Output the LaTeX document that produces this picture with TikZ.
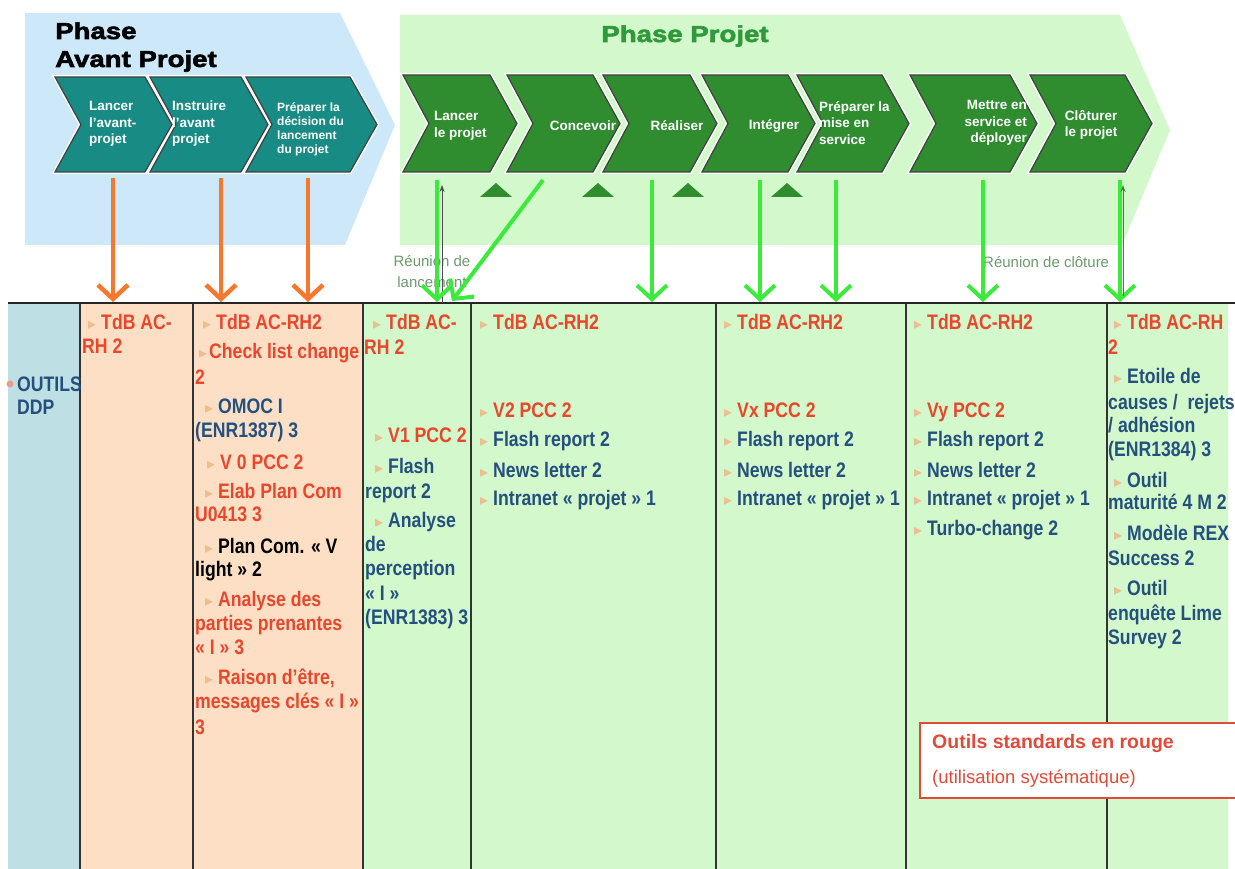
\documentclass[tikz,border=0pt]{standalone}
\usepackage{fontspec}
\setmainfont{Liberation Sans}
\newfontfamily\narrow[FakeStretch=0.84]{Liberation Sans}
\newfontfamily\heavy[FakeStretch=1.2,FakeBold=2.5]{Liberation Sans}
\newfontfamily\sym{DejaVu Sans}
\usetikzlibrary{arrows.meta}
\definecolor{bluebg}{HTML}{CDE9F9}
\definecolor{greenbg}{HTML}{D2F8CB}
\definecolor{peach}{HTML}{FDDFC6}
\definecolor{colzero}{HTML}{BEE0E4}
\definecolor{tealc}{HTML}{188B84}
\definecolor{dgreen}{HTML}{2F8D2F}
\definecolor{titleg}{HTML}{2E9A3A}
\definecolor{orangea}{HTML}{F5782E}
\definecolor{greena}{HTML}{3BEA3B}
\definecolor{redt}{HTML}{E8472B}
\definecolor{bluet}{HTML}{24507E}
\definecolor{bulc}{HTML}{EDBE8E}
\definecolor{labc}{HTML}{6E9A6E}
\definecolor{legr}{HTML}{E04A3A}
\newcounter{tlc}
\newcommand\bul{{\sym\color{bulc}\fontsize{16}{16}\selectfont ▸}\hspace{5pt}}
\newcommand\tbul{{\sym\color{bulc}\fontsize{16}{16}\selectfont ▸}\hspace{2pt}}
\newcommand\celltxt[4]{\stepcounter{tlc}\edef\tlname{t\arabic{tlc}}\node[#1] (\tlname) at (#2,#3) {#4};}
\newcommand\chev[5]{\draw[#5] (#1,#3) -- (#2,#3) -- ({#2+27},{(#3+#4)/2}) -- (#2,#4) -- (#1,#4) -- ({#1+26},{(#3+#4)/2}) -- cycle;}
\begin{document}
\begin{tikzpicture}[x=1pt,y=-1pt,
  txt/.style={anchor=base west, inner sep=0, font=\narrow\bfseries\fontsize{21}{24}\selectfont},
  tr/.style={txt,text=redt},
  tb/.style={txt,text=bluet},
  tk/.style={txt,text=black},
  avc/.style={fill=tealc, draw=black!75, line width=1.2, preaction={draw=white, line width=4}},
  pjc/.style={fill=dgreen, draw=black!75, line width=1.2, preaction={draw=white, line width=4}},
  ctx/.style={text=white, inner sep=0, font=\bfseries\fontsize{13.5}{16.5}\selectfont},
  ctxs/.style={text=white, inner sep=0, font=\bfseries\fontsize{12}{14}\selectfont},
  lab/.style={text=labc, inner sep=0, font=\fontsize{15}{21}\selectfont},
  oarr/.style={draw=orangea, line width=4.5, -{Straight Barb[length=14,width=30]}},
  garr/.style={draw=greena, line width=4, -{Straight Barb[length=14,width=30]}},
  thinup/.style={draw=black!70, line width=0.8, -{Stealth[length=7,width=5]}},
  colline/.style={draw=black!80, line width=1.8}
]
\useasboundingbox (0,0) rectangle (1235,869);
\fill[white] (0,0) rectangle (1235,869);
% phase backgrounds
\fill[bluebg] (25,13) -- (340,13) -- (395,125) -- (345,245) -- (25,245) -- cycle;
\fill[greenbg] (400,15) -- (1120,15) -- (1170,130) -- (1122,245) -- (400,245) -- cycle;
% titles
\node[anchor=base west, inner sep=0, font=\heavy\bfseries\fontsize{23}{23}\selectfont] (ttl1) at (55,39) {Phase};
\node[anchor=base west, inner sep=0, font=\heavy\bfseries\fontsize{23}{23}\selectfont] (ttl2) at (55,67) {Avant Projet};
\node[anchor=base, inner sep=0, text=titleg, font=\heavy\bfseries\fontsize{23}{23}\selectfont] (ttl3) at (685,42) {Phase Projet};
% avant-projet chevrons
\chev{55}{145}{77}{172}{avc}
\chev{150}{241}{77}{172}{avc}
\chev{246}{350}{77}{172}{avc}
\node[ctx, align=left, anchor=west] (ca1) at (89,124) {Lancer\\l’avant-\\projet};
\node[ctx, align=left, anchor=west] (ca2) at (172,124) {Instruire\\l’avant\\projet};
\node[ctxs, align=left, anchor=west] (ca3) at (277,129) {Préparer la\\décision du\\lancement\\du projet};
% projet chevrons
\chev{403}{490}{75}{172}{pjc}
\chev{507}{593}{75}{172}{pjc}
\chev{603}{690}{75}{172}{pjc}
\chev{702}{788}{75}{172}{pjc}
\chev{797}{882}{75}{172}{pjc}
\chev{910}{1010}{75}{172}{pjc}
\chev{1030}{1125}{75}{172}{pjc}
\node[ctx, align=left, anchor=west] (cg1) at (434,126) {Lancer\\le projet};
\node[ctx] (cg2) at (583,126) {Concevoir};
\node[ctx] (cg3) at (677,126) {Réaliser};
\node[ctx] (cg4) at (774,126) {Intégrer};
\node[ctx, align=left, anchor=west] (cg5) at (819,123) {Préparer la\\mise en\\service};
\node[ctx, align=right, anchor=east] (cg6) at (1027,123) {Mettre en\\service et\\déployer};
\node[ctx, align=center] (cg7) at (1091,125) {Clôturer\\le projet};
% milestone triangles
\foreach \tx in {496,598,688,787}{\fill[dgreen] (\tx-16,197) -- (\tx+16,197) -- (\tx,183) -- cycle;}
% labels
\node[lab, align=center] (lab1) at (432,272) {Réunion de\\lancement};
\node[lab, anchor=base west] (lab2) at (983,268) {Réunion de clôture};
% table
\fill[colzero] (8,303) rectangle (80,869);
\fill[peach] (80,303) rectangle (363,869);
\fill[greenbg] (363,303) rectangle (1228,869);
\foreach \cx in {80,193,363,471,716,906,1107}{\draw[colline] (\cx,303) -- (\cx,869);}
\draw[draw=black!85, line width=2.2] (8,303) -- (1235,303);
% column 0
\fill[redt!55] (10,384) circle (3.5);
\celltxt{tb}{17}{391}{OUTILS}
\celltxt{tb}{17}{414}{DDP}
% column 1
\celltxt{tr}{88}{330}{\bul TdB AC-}
\celltxt{tr}{82}{353}{RH 2}
% column 2
\celltxt{tr}{203}{330}{\bul TdB AC-RH2}
\celltxt{tr}{199}{358}{\tbul Check list change}
\celltxt{tr}{195}{384}{2}
\celltxt{tb}{205}{413}{\bul OMOC I}
\celltxt{tb}{195}{437}{(ENR1387) 3}
\celltxt{tr}{207}{469}{\bul V 0 PCC 2}
\celltxt{tr}{205}{498}{\bul Elab Plan Com}
\celltxt{tr}{195}{521}{U0413 3}
\celltxt{tk}{205}{553}{\bul Plan Com. « V}
\celltxt{tk}{195}{576}{light » 2}
\celltxt{tr}{205}{606}{\bul Analyse des}
\celltxt{tr}{195}{630}{parties prenantes}
\celltxt{tr}{195}{654}{« I » 3}
\celltxt{tr}{205}{684}{\bul Raison d’être,}
\celltxt{tr}{195}{708}{messages clés « I »}
\celltxt{tr}{195}{734}{3}
% column 3
\celltxt{tr}{373}{330}{\bul TdB AC-}
\celltxt{tr}{364}{354}{RH 2}
\celltxt{tr}{375}{442}{\bul V1 PCC 2}
\celltxt{tb}{375}{473}{\bul Flash}
\celltxt{tb}{365}{498}{report 2}
\celltxt{tb}{375}{527}{\bul Analyse}
\celltxt{tb}{365}{551}{de}
\celltxt{tb}{365}{575}{perception}
\celltxt{tb}{365}{600}{« I »}
\celltxt{tb}{365}{624}{(ENR1383) 3}
% column 4
\celltxt{tr}{480}{330}{\bul TdB AC-RH2}
\celltxt{tr}{480}{417}{\bul V2 PCC 2}
\celltxt{tb}{480}{446}{\bul Flash report 2}
\celltxt{tb}{480}{477}{\bul News letter 2}
\celltxt{tb}{480}{505}{\bul Intranet « projet » 1}
% column 5
\celltxt{tr}{724}{330}{\bul TdB AC-RH2}
\celltxt{tr}{724}{417}{\bul Vx PCC 2}
\celltxt{tb}{724}{446}{\bul Flash report 2}
\celltxt{tb}{724}{477}{\bul News letter 2}
\celltxt{tb}{724}{505}{\bul Intranet « projet » 1}
% column 6
\celltxt{tr}{914}{330}{\bul TdB AC-RH2}
\celltxt{tr}{914}{417}{\bul Vy PCC 2}
\celltxt{tb}{914}{446}{\bul Flash report 2}
\celltxt{tb}{914}{477}{\bul News letter 2}
\celltxt{tb}{914}{505}{\bul Intranet « projet » 1}
\celltxt{tb}{914}{535}{\bul Turbo-change 2}
% column 7
\celltxt{tr}{1114}{329}{\bul TdB AC-RH}
\celltxt{tr}{1108}{354}{2}
\celltxt{tb}{1114}{383}{\bul Etoile de}
\celltxt{tb}{1108}{409}{causes /\ \ rejets}
\celltxt{tb}{1108}{432}{/ adhésion}
\celltxt{tb}{1108}{456}{(ENR1384) 3}
\celltxt{tb}{1114}{487}{\bul Outil}
\celltxt{tb}{1108}{509}{maturité 4 M 2}
\celltxt{tb}{1114}{540}{\bul Modèle REX}
\celltxt{tb}{1108}{565}{Success 2}
\celltxt{tb}{1114}{595}{\bul Outil}
\celltxt{tb}{1108}{620}{enquête Lime}
\celltxt{tb}{1108}{644}{Survey 2}
% legend
\draw[fill=white, draw=legr, line width=1.5] (920,723) rectangle (1250,798);
\node[anchor=base west, inner sep=0, text=legr, font=\bfseries\fontsize{19.5}{22}\selectfont] (leg1) at (932,748) {Outils standards en rouge};
\node[anchor=base west, inner sep=0, text=legr, font=\fontsize{18.5}{22}\selectfont] (leg2) at (932,783) {(utilisation systématique)};
% arrow end points
\coordinate (o1a) at (113,178); \coordinate (o1b) at (113,302);
\coordinate (o2a) at (221,178); \coordinate (o2b) at (221,302);
\coordinate (o3a) at (308,178); \coordinate (o3b) at (308,302);
\coordinate (g1a) at (437,180); \coordinate (g1b) at (437,302);
\coordinate (g2a) at (543,180); \coordinate (g2b) at (452,301);
\coordinate (g3a) at (652,180); \coordinate (g3b) at (652,302);
\coordinate (g4a) at (760,180); \coordinate (g4b) at (760,302);
\coordinate (g5a) at (836,180); \coordinate (g5b) at (836,302);
\coordinate (g6a) at (983,180); \coordinate (g6b) at (983,302);
\coordinate (g7a) at (1120,180); \coordinate (g7b) at (1120,302);
\coordinate (u1a) at (442,303); \coordinate (u1b) at (442,185);
\coordinate (u2a) at (1123,296); \coordinate (u2b) at (1123,185);
% arrows
\draw[oarr] (o1a) -- (o1b);
\draw[oarr] (o2a) -- (o2b);
\draw[oarr] (o3a) -- (o3b);
\draw[thinup] (u1a) -- (u1b);
\draw[garr] (g1a) -- (g1b);
\draw[garr] (g2a) -- (g2b);
\draw[garr] (g3a) -- (g3b);
\draw[garr] (g4a) -- (g4b);
\draw[garr] (g5a) -- (g5b);
\draw[garr] (g6a) -- (g6b);
\draw[garr] (g7a) -- (g7b);
\draw[thinup, draw=dgreen] (u2a) -- (u2b);
\end{tikzpicture}
\end{document}
